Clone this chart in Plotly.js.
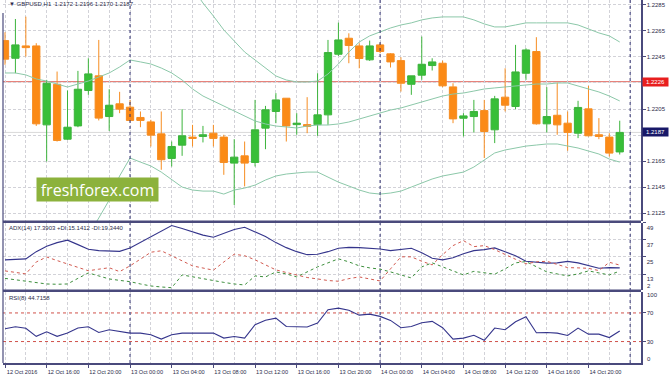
<!DOCTYPE html>
<html>
<head>
<meta charset="utf-8">
<script src="https://cdn.plot.ly/plotly-3.0.1.min.js"></script>
<style>
html,body{margin:0;padding:0;background:#ffffff;}
#chart{width:670px;height:375px;}
</style>
</head>
<body>
<div id="chart"></div>
<script>
// ---------- DATA (GBPUSD H1) ----------
const times = [
 "2016-10-12 12:00","2016-10-12 13:00","2016-10-12 14:00","2016-10-12 15:00","2016-10-12 16:00","2016-10-12 17:00",
 "2016-10-12 18:00","2016-10-12 19:00","2016-10-12 20:00","2016-10-12 21:00","2016-10-12 22:00","2016-10-12 23:00",
 "2016-10-13 00:00","2016-10-13 01:00","2016-10-13 02:00","2016-10-13 03:00","2016-10-13 04:00","2016-10-13 05:00",
 "2016-10-13 06:00","2016-10-13 07:00","2016-10-13 08:00","2016-10-13 09:00","2016-10-13 10:00","2016-10-13 11:00",
 "2016-10-13 12:00","2016-10-13 13:00","2016-10-13 14:00","2016-10-13 15:00","2016-10-13 16:00","2016-10-13 17:00",
 "2016-10-13 18:00","2016-10-13 19:00","2016-10-13 20:00","2016-10-13 21:00","2016-10-13 22:00","2016-10-13 23:00",
 "2016-10-14 00:00","2016-10-14 01:00","2016-10-14 02:00","2016-10-14 03:00","2016-10-14 04:00","2016-10-14 05:00",
 "2016-10-14 06:00","2016-10-14 07:00","2016-10-14 08:00","2016-10-14 09:00","2016-10-14 10:00","2016-10-14 11:00",
 "2016-10-14 12:00","2016-10-14 13:00","2016-10-14 14:00","2016-10-14 15:00","2016-10-14 16:00","2016-10-14 17:00",
 "2016-10-14 18:00","2016-10-14 19:00","2016-10-14 20:00","2016-10-14 21:00","2016-10-14 22:00","2016-10-14 23:00"
];

const openP = [1.22576,1.2244,1.22535,1.22535,1.21928,1.2224,1.21818,1.2192,1.22192,1.22305,
 1.21992,1.2209,1.22064,1.21985,1.21951,1.21859,1.2167,1.21772,1.21834,1.21839,
 1.21864,1.21834,1.21634,1.2169,1.21639,1.21903,1.22031,1.22133,1.2193,1.2193,
 1.2193,1.22005,1.22471,1.22594,1.22535,1.22428,1.22543,1.22474,1.22422,1.2224,
 1.2231,1.22384,1.22402,1.2222,1.21979,1.21992,1.22038,1.2189,1.22141,1.22069,
 1.22325,1.22492,1.21936,1.22002,1.21941,1.21864,1.22051,1.21852,1.21834,1.2172];

const highP = [1.2264,1.22742,1.2276,1.22556,1.22274,1.22338,1.22192,1.22343,1.2244,1.22581,
 1.22202,1.22182,1.2212,1.22031,1.21967,1.22031,1.218,1.22049,1.21928,1.2192,
 1.21928,1.21852,1.21818,1.218,1.2212,1.22074,1.22172,1.22133,1.22018,1.22141,
 1.22325,1.22581,1.22714,1.22632,1.22556,1.22576,1.22556,1.22479,1.22448,1.22305,
 1.22607,1.2244,1.22422,1.22248,1.22018,1.2212,1.2212,1.22151,1.22363,1.22543,
 1.22517,1.22602,1.22218,1.22254,1.22031,1.22113,1.22228,1.2198,1.21864,1.2196];

const lowP = [1.2239,1.22325,1.22453,1.2192,1.21647,1.218,1.21813,1.2191,1.22159,1.21962,
 1.21882,1.22018,1.21955,1.2191,1.21762,1.21583,1.21608,1.2169,1.21762,1.21793,
 1.21762,1.21544,1.21312,1.21455,1.21608,1.21741,1.21941,1.218,1.21852,1.21864,
 1.21844,1.21928,1.22458,1.22402,1.22363,1.2242,1.22479,1.22369,1.22184,1.22159,
 1.22274,1.22346,1.22218,1.21941,1.21839,1.2187,1.21673,1.21788,1.22031,1.22049,
 1.22274,1.2193,1.2187,1.21852,1.21729,1.21826,1.21839,1.21818,1.21685,1.217];

const closeP = [1.22433,1.22543,1.22522,1.21936,1.22248,1.21808,1.2191,1.22202,1.2232,1.2198,
 1.22079,1.22049,1.21962,1.21962,1.21849,1.2166,1.21762,1.21844,1.21824,1.21852,
 1.21824,1.21639,1.2168,1.21634,1.2189,1.22044,1.2212,1.2192,1.21941,1.21916,
 1.22005,1.22484,1.22581,1.22538,1.22438,1.22535,1.22492,1.22412,1.22248,1.22305,
 1.22394,1.22412,1.22228,1.21974,1.21997,1.22031,1.21877,1.22128,1.22079,1.22335,
 1.22504,1.21936,1.21992,1.21928,1.2187,1.22062,1.21844,1.21839,1.21711,1.2187];

const bbUpper = [1.23612,1.23612,1.23596,1.2355,1.23535,1.23504,1.23473,1.23481,1.2345,1.23381,
 1.23304,1.23212,1.23181,1.23181,1.23181,1.23165,1.2315,1.23096,1.22981,1.22865,
 1.22765,1.22658,1.22573,1.22488,1.22427,1.22365,1.22304,1.22273,1.22258,1.22258,
 1.22265,1.22319,1.22396,1.22488,1.22565,1.22612,1.22642,1.22673,1.22696,1.22712,
 1.22735,1.2275,1.22758,1.22758,1.22758,1.22735,1.22704,1.22681,1.22681,1.22696,
 1.22712,1.22712,1.22712,1.22712,1.22712,1.22696,1.22665,1.22635,1.22612,1.22565];

const bbMiddle = [1.22327,1.22327,1.22312,1.22281,1.22265,1.22242,1.22219,1.22242,1.22265,1.22296,
 1.22327,1.22373,1.22427,1.22412,1.22396,1.22365,1.22327,1.22273,1.22204,1.2215,
 1.22112,1.22073,1.22035,1.21996,1.21958,1.21935,1.21919,1.21912,1.21904,1.21919,
 1.21927,1.21927,1.21935,1.2195,1.21973,1.21996,1.22019,1.22042,1.22058,1.22081,
 1.22104,1.22127,1.2215,1.22165,1.22173,1.22188,1.22204,1.22212,1.22219,1.22227,
 1.22235,1.22242,1.22242,1.2225,1.2225,1.22227,1.22204,1.22181,1.2215,1.22112];

const bbLower = [1.21042,1.21042,1.21027,1.21012,1.20996,1.20981,1.20965,1.21004,1.21081,1.21212,
 1.2135,1.21535,1.21673,1.21642,1.21612,1.21565,1.21504,1.2145,1.21427,1.21419,
 1.21419,1.21396,1.21427,1.21442,1.21465,1.21504,1.21535,1.2155,1.21558,1.21565,
 1.21565,1.21527,1.21488,1.21458,1.21427,1.21404,1.21396,1.21404,1.21419,1.2145,
 1.21481,1.21512,1.21535,1.2155,1.21565,1.21604,1.21658,1.21712,1.21735,1.2175,
 1.21765,1.21773,1.21781,1.21781,1.21765,1.2175,1.21727,1.21704,1.21665,1.21642];

const adx = [23.0,23.2,23.7,28.7,32.5,35.0,36.7,33.6,30.4,29.4,
 28.9,28.9,31.3,35.3,39.2,43.0,46.9,44.8,42.3,40.2,
 38.7,41.6,44.1,45.7,42.7,39.2,35.0,31.5,28.7,26.6,
 26.9,28.7,31.1,31.7,31.5,31.0,30.6,29.4,30.1,31.1,
 28.0,24.1,23.0,24.4,27.3,29.4,30.1,31.3,28.7,25.8,
 22.0,21.3,20.7,20.9,21.9,20.9,19.2,17.1,17.6,17.39];

const plusDI = [10.1,9.0,8.0,6.9,6.2,6.0,6.2,10.1,13.9,11.8,
 9.7,8.7,7.8,6.2,4.8,4.1,3.6,12.5,11.1,9.7,
 8.3,7.3,6.2,5.5,11.8,11.1,14.6,13.2,11.1,14.6,
 18.1,20.9,23.7,21.6,18.8,17.4,16.5,14.6,12.5,10.4,
 18.1,20.9,18.1,15.3,12.5,15.0,13.9,13.0,16.7,20.9,
 21.8,18.1,14.6,13.2,11.8,13.2,15.3,13.9,12.5,15.14];

const minusDI = [15.3,14.0,13.2,21.5,25.0,22.5,20.0,17.5,15.4,16.5,
 17.5,14.8,18.8,23.5,28.3,29.3,25.9,22.5,18.8,17.3,
 15.8,21.5,26.9,25.9,23.0,19.5,16.0,14.2,12.3,10.7,
 9.7,8.6,8.1,9.9,11.1,9.7,8.3,16.7,25.1,25.1,
 22.0,19.5,26.6,32.9,36.4,32.2,32.9,30.1,26.6,23.4,
 20.2,21.6,22.0,19.9,17.6,17.4,17.1,15.5,21.3,19.34];

const rsi = [47.9,50.7,48.6,37.3,43.7,37.3,41.8,48.9,50.7,42.7,
 46.5,44.1,41.8,41.8,39.4,33.4,39.4,41.8,41.8,42.7,
 41.8,34.8,37.0,34.8,53.5,59.9,62.7,51.1,51.1,50.3,
 55.9,74.6,76.8,73.9,66.9,68.3,65.2,59.6,49.3,51.1,
 56.3,58.2,49.3,33.4,34.8,38.7,31.7,48.9,46.5,57.7,
 64.8,42.3,42.7,41.8,38.5,48.9,40.4,40.4,35.6,44.72];

const tickTimes = ["2016-10-12 12:00","2016-10-12 16:00","2016-10-12 20:00","2016-10-13 00:00","2016-10-13 04:00",
 "2016-10-13 08:00","2016-10-13 12:00","2016-10-13 16:00","2016-10-13 20:00","2016-10-14 00:00",
 "2016-10-14 04:00","2016-10-14 08:00","2016-10-14 12:00","2016-10-14 16:00","2016-10-14 20:00"];
const tickLabels = ["12 Oct 2016","12 Oct 16:00","12 Oct 20:00","13 Oct 00:00","13 Oct 04:00",
 "13 Oct 08:00","13 Oct 12:00","13 Oct 16:00","13 Oct 20:00","14 Oct 00:00",
 "14 Oct 04:00","14 Oct 08:00","14 Oct 12:00","14 Oct 16:00","14 Oct 20:00"];
const daySeparators = ["2016-10-13 00:00","2016-10-14 00:00","2016-10-15 00:00"];
const priceTicks = [1.2125,1.2145,1.2165,1.2205,1.2245,1.2265,1.2285];
const adxTicks = [49,37,25,13];
const rsiLevels = [70,30];
const resistLevel = 1.2226;
const symbolText = "GBPUSD,H1";
const adxText = "ADX(14) 17.3903 +DI:15.1412 -DI:19.3440";
const rsiText = "RSI(8) 44.7158";
const watermark = "freshforex.com";

// ---------- STYLE / LAYOUT ----------
const PH = 363; // plot height in px
const py = px => 1 - px / PH;
const FRAME = '#4a4a7c';
const GRID = '#d2d2d8';
const TXT = '#2b2b4a';
const FONT = 'Liberation Sans, Arial, sans-serif';
const lastClose = closeP[closeP.length - 1];
const last = closeP.length - 1;

const bandLine = {color:'#8cc8a9', width:1};
const traces = [
  {type:'scatter', mode:'lines', x:times, y:bbUpper, line:bandLine, xaxis:'x', yaxis:'y', hoverinfo:'skip'},
  {type:'scatter', mode:'lines', x:times, y:bbMiddle, line:bandLine, xaxis:'x', yaxis:'y', hoverinfo:'skip'},
  {type:'scatter', mode:'lines', x:times, y:bbLower, line:bandLine, xaxis:'x', yaxis:'y', hoverinfo:'skip'},
  {type:'candlestick', x:times, open:openP, high:highP, low:lowP, close:closeP, xaxis:'x', yaxis:'y',
   increasing:{line:{color:'#3cb43c', width:1}, fillcolor:'#38bf38'},
   decreasing:{line:{color:'#f68d22', width:1}, fillcolor:'#fb8a16'},
   whiskerwidth:0, hoverinfo:'skip'},
  {type:'scatter', mode:'lines', x:times, y:adx, line:{color:'#35358c', width:1.1}, xaxis:'x', yaxis:'y2', hoverinfo:'skip'},
  {type:'scatter', mode:'lines', x:times, y:plusDI, line:{color:'#3d8f3d', width:1, dash:'dot'}, xaxis:'x', yaxis:'y2', hoverinfo:'skip'},
  {type:'scatter', mode:'lines', x:times, y:minusDI, line:{color:'#d25a50', width:1, dash:'dot'}, xaxis:'x', yaxis:'y2', hoverinfo:'skip'},
  {type:'scatter', mode:'lines', x:times, y:rsi, line:{color:'#35358c', width:1.1}, xaxis:'x', yaxis:'y3', hoverinfo:'skip'}
];

const tickFont = {family:FONT, size:6, color:TXT};
const gridDash = '3px,2px';

const yCommon = {
  side:'right', anchor:'x', showline:true, linecolor:FRAME, linewidth:1.5,
  ticks:'outside', ticklen:3, tickcolor:FRAME, tickfont:tickFont,
  zeroline:false, fixedrange:true
};

const shapes = [];
// resistance line
shapes.push({type:'line', xref:'paper', x0:0, x1:1, yref:'y', y0:resistLevel, y1:resistLevel,
  line:{color:'#e0675e', width:1}, layer:'below'});
// bid line
shapes.push({type:'line', xref:'paper', x0:0, x1:1, yref:'y', y0:lastClose, y1:lastClose,
  line:{color:'#d9d9d9', width:1}, layer:'below'});
// RSI levels
rsiLevels.forEach(v => shapes.push({type:'line', xref:'paper', x0:0, x1:1, yref:'y3', y0:v, y1:v,
  line:{color:'#d0504a', width:1, dash:'dot'}, layer:'below'}));
// day separators
daySeparators.forEach(t => shapes.push({type:'line', xref:'x', x0:t, x1:t, yref:'paper', y0:0, y1:1,
  line:{color:'#303070', width:1, dash:'dot'}}));
// panel separators
[221.8, 290.8].forEach(p => shapes.push({type:'line', xref:'paper', x0:0, x1:1, yref:'paper', y0:py(p), y1:py(p),
  line:{color:FRAME, width:2.5}}));
// left frame
shapes.push({type:'line', xref:'paper', x0:0, x1:0, yref:'paper', y0:0, y1:py(13),
  line:{color:FRAME, width:1.2}});

const annotations = [
  {xref:'paper', yref:'paper', x:(7-3)/638, y:1, xanchor:'left', yanchor:'top', yshift:1, showarrow:false,
   text:'\u25BC ' + symbolText + '  ' + [openP[last], highP[last], lowP[last], closeP[last]].map(v => v.toFixed(4)).join(' '),
   font:{family:FONT, size:6, color:TXT}},
  {xref:'paper', yref:'paper', x:(7-3)/638, y:py(223.5), xanchor:'left', yanchor:'top', showarrow:false,
   text:adxText, font:{family:FONT, size:6, color:TXT}},
  {xref:'paper', yref:'paper', x:(7-3)/638, y:py(292.5), xanchor:'left', yanchor:'top', showarrow:false,
   text:rsiText, font:{family:FONT, size:6, color:TXT}},
  {xref:'paper', yref:'y', x:1, y:resistLevel, xanchor:'left', yanchor:'middle', xshift:1, showarrow:false,
   text:resistLevel.toFixed(4), bgcolor:'#e81e1e', width:25, height:8, borderpad:0,
   font:{family:FONT, size:6, color:'#ffffff'}},
  {xref:'paper', yref:'y', x:1, y:lastClose, xanchor:'left', yanchor:'middle', xshift:1, showarrow:false,
   text:lastClose.toFixed(4), bgcolor:'#181868', width:25, height:8, borderpad:0,
   font:{family:FONT, size:6, color:'#ffffff'}},
  {xref:'paper', yref:'y2', x:1, y:2, xanchor:'left', yanchor:'middle', xshift:4, yshift:4, showarrow:false,
   text:'2', font:tickFont},
  {xref:'paper', yref:'y3', x:1, y:100, xanchor:'left', yanchor:'middle', xshift:4, yshift:-3.5, showarrow:false,
   text:'100', font:tickFont},
  {xref:'paper', yref:'y3', x:1, y:0, xanchor:'left', yanchor:'middle', xshift:4, yshift:3.7, showarrow:false,
   text:'0', font:tickFont},
  {xref:'paper', yref:'paper', x:(36-3)/638, y:py(177), xanchor:'left', yanchor:'top', showarrow:false,
   text:watermark, bgcolor:'#8cb23c', width:121, height:23, borderpad:0,
   font:{family:'Open Sans, sans-serif', size:16, color:'#ffffff'}}
];

const layout = {
  width:670, height:375,
  margin:{l:3, r:29, t:0, b:12, pad:0},
  paper_bgcolor:'#ffffff', plot_bgcolor:'#ffffff',
  showlegend:false, hovermode:false, dragmode:false,
  boxgap:0.3, boxgroupgap:0,
  xaxis:{
    type:'date', domain:[0,1], anchor:'y3',
    range:['2016-10-12 11:48:30','2016-10-15 01:02:30'],
    tickmode:'array', tickvals:tickTimes, ticktext:tickLabels,
    ticks:'outside', ticklen:3, tickcolor:FRAME,
    tickfont:{family:FONT, size:5.6, color:TXT}, ticklabelshift:17, ticklabelstandoff:0,
    showline:true, linecolor:FRAME, linewidth:1.5,
    showgrid:true, gridcolor:GRID, griddash:gridDash, gridwidth:1,
    minor:{tickmode:'linear', tick0:'2016-10-12 12:00', dtick:7200000, showgrid:true, gridcolor:GRID, griddash:gridDash, ticks:''},
    rangeslider:{visible:false}, zeroline:false, fixedrange:true
  },
  yaxis:Object.assign({}, yCommon, {
    domain:[py(221), 1], range:[1.21189, 1.22888],
    tickmode:'array', tickvals:priceTicks, tickformat:'.4f',
    showgrid:true, gridcolor:GRID, griddash:gridDash,
    minor:{tickmode:'linear', tick0:1.2125, dtick:0.002, showgrid:true, gridcolor:GRID, griddash:gridDash, ticks:''}
  }),
  yaxis2:Object.assign({}, yCommon, {
    domain:[py(290), py(222.5)], range:[2, 49],
    tickmode:'array', tickvals:adxTicks, ticklabelshift:5,
    showgrid:true, gridcolor:GRID, griddash:gridDash
  }),
  yaxis3:Object.assign({}, yCommon, {
    domain:[0, py(291.5)], range:[0, 100],
    tickmode:'array', tickvals:rsiLevels,
    showgrid:false
  }),
  shapes:shapes,
  annotations:annotations
};

Plotly.newPlot('chart', traces, layout, {staticPlot:true, displayModeBar:false});
</script>
</body>
</html>
